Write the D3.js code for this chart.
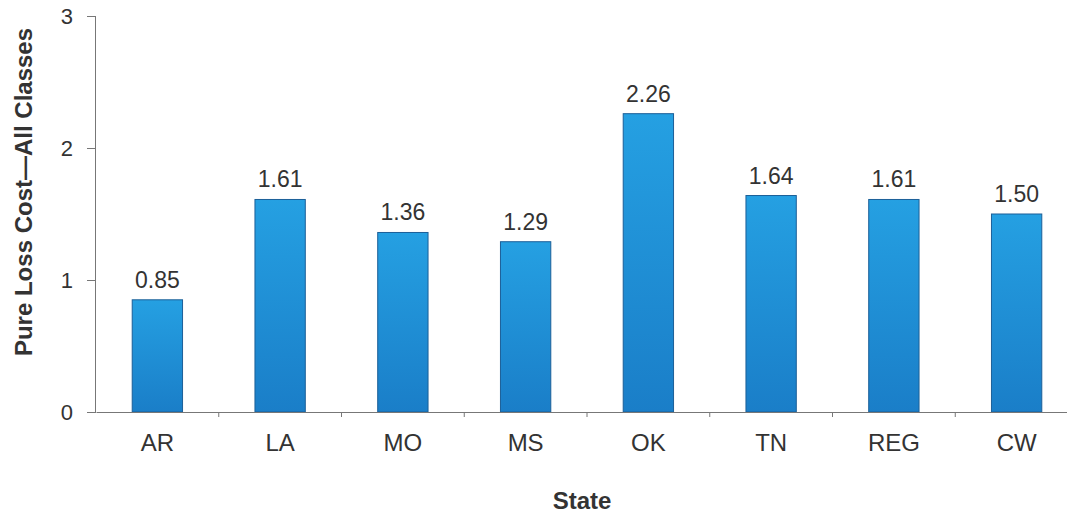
<!DOCTYPE html>
<html>
<head>
<meta charset="utf-8">
<script src="https://cdn.jsdelivr.net/npm/d3@7"></script>
<style>
  html, body { margin: 0; padding: 0; background: #fff; }
  svg { display: block; }
  text { font-family: "Liberation Sans", Arial, sans-serif; fill: #333; }
</style>
</head>
<body>
<svg id="chart" width="1067" height="513"></svg>
<script>
const categories = ["AR", "LA", "MO", "MS", "OK", "TN", "REG", "CW"];
const values = [0.85, 1.61, 1.36, 1.29, 2.26, 1.64, 1.61, 1.50];
const yTicks = [0, 1, 2, 3];
const yTitle = "Pure Loss Cost\u2014All Classes";
const xTitle = "State";

const svg = d3.select("#chart");

const x = d3.scaleBand().domain(categories).range([96, 1078]).paddingInner(0.59).paddingOuter(0.295);
const y = d3.scaleLinear().domain([0, 3]).range([412, 16]);

const defs = svg.append("defs");
const grad = defs.append("linearGradient").attr("id", "barGrad").attr("x1", 0).attr("y1", 0).attr("x2", 0).attr("y2", 1);
grad.append("stop").attr("offset", "0%").attr("stop-color", "#25a0e2");
grad.append("stop").attr("offset", "100%").attr("stop-color", "#1a7ec8");

// bars
svg.append("g").selectAll("rect").data(values).join("rect")
  .attr("x", (d, i) => x(categories[i]))
  .attr("y", d => y(d))
  .attr("width", x.bandwidth())
  .attr("height", d => y(0) - y(d))
  .attr("fill", "url(#barGrad)")
  .attr("stroke", "#1b5f98")
  .attr("stroke-width", 1);

// value labels
svg.append("g").selectAll("text").data(values).join("text")
  .attr("x", (d, i) => x(categories[i]) + x.bandwidth() / 2)
  .attr("y", d => y(d) - 12)
  .attr("text-anchor", "middle")
  .style("font-size", "23px")
  .text(d => d.toFixed(2));

// y axis
const yAxis = d3.axisLeft(y).tickValues(yTicks).tickSize(9).tickPadding(14).tickFormat(d3.format("d"));
const gy = svg.append("g").attr("transform", "translate(96,0)").call(yAxis);
gy.select(".domain").attr("stroke", "#777").attr("d", `M-0.5,${y(3)}V${y(0)}`);
gy.selectAll(".tick line").attr("stroke", "#777");
gy.selectAll(".tick text").style("font-size", "22px").style("font-family", "'Liberation Sans', Arial, sans-serif").attr("fill", "#333");

// x axis
const xAxis = d3.axisBottom(x).tickSize(0).tickPadding(22);
const gx = svg.append("g").attr("transform", `translate(0,${y(0)})`).call(xAxis);
gx.select(".domain").attr("stroke", "#777");
gx.selectAll(".tick text").style("font-size", "24px").style("font-family", "'Liberation Sans', Arial, sans-serif").attr("fill", "#333");

// boundary tick marks between categories
const step = x.step();
const bounds = categories.slice(0, -1).map(c => x(c) + x.bandwidth() + (step - x.bandwidth()) / 2);
svg.append("g").selectAll("line").data(bounds).join("line")
  .attr("x1", d => d).attr("x2", d => d)
  .attr("y1", y(0)).attr("y2", y(0) + 5)
  .attr("stroke", "#777");

// titles
svg.append("text")
  .attr("transform", `translate(32,192) rotate(-90)`)
  .attr("text-anchor", "middle")
  .style("font-size", "24px").style("font-weight", "bold")
  .text(yTitle);

svg.append("text")
  .attr("x", 582).attr("y", 509)
  .attr("text-anchor", "middle")
  .style("font-size", "24px").style("font-weight", "bold")
  .text(xTitle);
</script>
</body>
</html>
